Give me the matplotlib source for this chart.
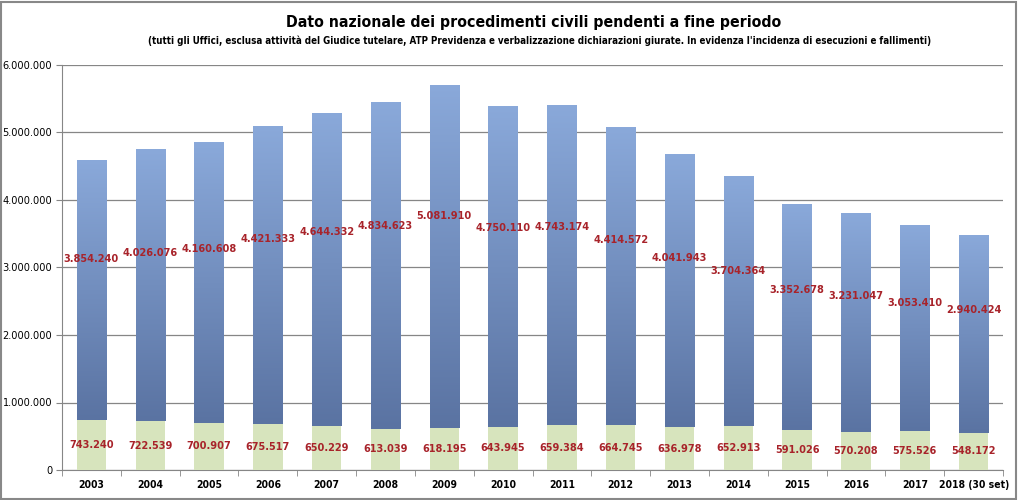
import numpy as np
import matplotlib.pyplot as plt
from matplotlib.ticker import FuncFormatter
from matplotlib.patches import Rectangle
from matplotlib.colors import LinearSegmentedColormap

anni = ["2003", "2004", "2005", "2006", "2007", "2008", "2009", "2010", "2011",
        "2012", "2013", "2014", "2015", "2016", "2017", "2018 (30 set)"]
esecuzioni_fallimenti = [743240, 722539, 700907, 675517, 650229, 613039, 618195, 643945,
                         659384, 664745, 636978, 652913, 591026, 570208, 575526, 548172]
altri_procedimenti = [3854240, 4026076, 4160608, 4421333, 4644332, 4834623, 5081910, 4750110,
                      4743174, 4414572, 4041943, 3704364, 3352678, 3231047, 3053410, 2940424]

def fmt_it(v):
    return f"{int(round(v)):,}".replace(",", ".")

fnt = dict(family="DejaVu Sans", stretch="condensed")

fig = plt.figure(figsize=(10.18, 5), dpi=100)
ax = fig.add_axes([0.0609, 0.06, 0.9244, 0.81])

x = np.arange(len(anni))
w = 0.5
green = "#d7e4bd"
bars_g = ax.bar(x, esecuzioni_fallimenti, w, color=green, zorder=3)
bars_b = ax.bar(x, altri_procedimenti, w, bottom=esecuzioni_fallimenti,
                color="#7591c4", zorder=3)

# sfumatura verticale sulle barre blu
grad = np.linspace(0, 1, 256).reshape(-1, 1)
cmap = LinearSegmentedColormap.from_list("b", ["#5a73a2", "#8aa9da"])
for b in bars_b:
    x0, y0 = b.get_x(), b.get_y()
    im = ax.imshow(grad, cmap=cmap, aspect="auto", origin="lower",
                   extent=(x0, x0 + b.get_width(), y0, y0 + b.get_height()), zorder=4)
    im.set_clip_path(b)

red = "#a8232a"
for i in range(len(anni)):
    g = esecuzioni_fallimenti[i]
    t = altri_procedimenti[i]
    ax.text(x[i], g / 2, fmt_it(g), ha="center", va="center", color=red,
            fontsize=7.8, fontweight="bold", zorder=6, **fnt)
    ax.text(x[i], g + 0.62 * t, fmt_it(t), ha="center", va="center", color=red,
            fontsize=7.8, fontweight="bold", zorder=6, **fnt)

ax.set_xlim(-0.5, len(anni) - 0.5)
ax.set_ylim(0, 6000000)
ax.set_yticks(np.arange(0, 6000001, 1000000))
ax.yaxis.set_major_formatter(FuncFormatter(lambda v, p: fmt_it(v)))
ax.grid(axis="y", color="#868686", linewidth=0.9, zorder=0)
ax.set_xticks(x)
ax.set_xticklabels(anni, fontsize=7.5, fontweight="bold", **fnt)
for lab in ax.get_yticklabels():
    lab.set_fontsize(7.8)
    lab.set_fontstretch("condensed")
ax.set_xticks(np.arange(-0.5, len(anni)), minor=True)
ax.tick_params(axis="x", which="major", length=0, pad=7)
ax.tick_params(axis="x", which="minor", length=4, color="#868686")
ax.tick_params(axis="y", length=4, color="#868686", pad=3)
for s in ["top", "right"]:
    ax.spines[s].set_visible(False)
ax.spines["left"].set_color("#868686")
ax.spines["bottom"].set_color("#868686")

fig.text(0.524, 0.955, "Dato nazionale dei procedimenti civili pendenti a fine periodo",
         ha="center", va="center", fontsize=11.3, fontweight="bold", **fnt)
fig.text(0.53, 0.918, "(tutti gli Uffici, esclusa attività del Giudice tutelare, ATP Previdenza e "
         "verbalizzazione dichiarazioni giurate. In evidenza l'incidenza di esecuzioni e fallimenti)",
         ha="center", va="center", fontsize=7, fontweight="bold", **fnt)

fig.patches.append(Rectangle((0.001, 0.002), 0.997, 0.995, transform=fig.transFigure,
                             fill=False, edgecolor="#888888", linewidth=1.5))

fig.savefig("out.png", dpi=100)
